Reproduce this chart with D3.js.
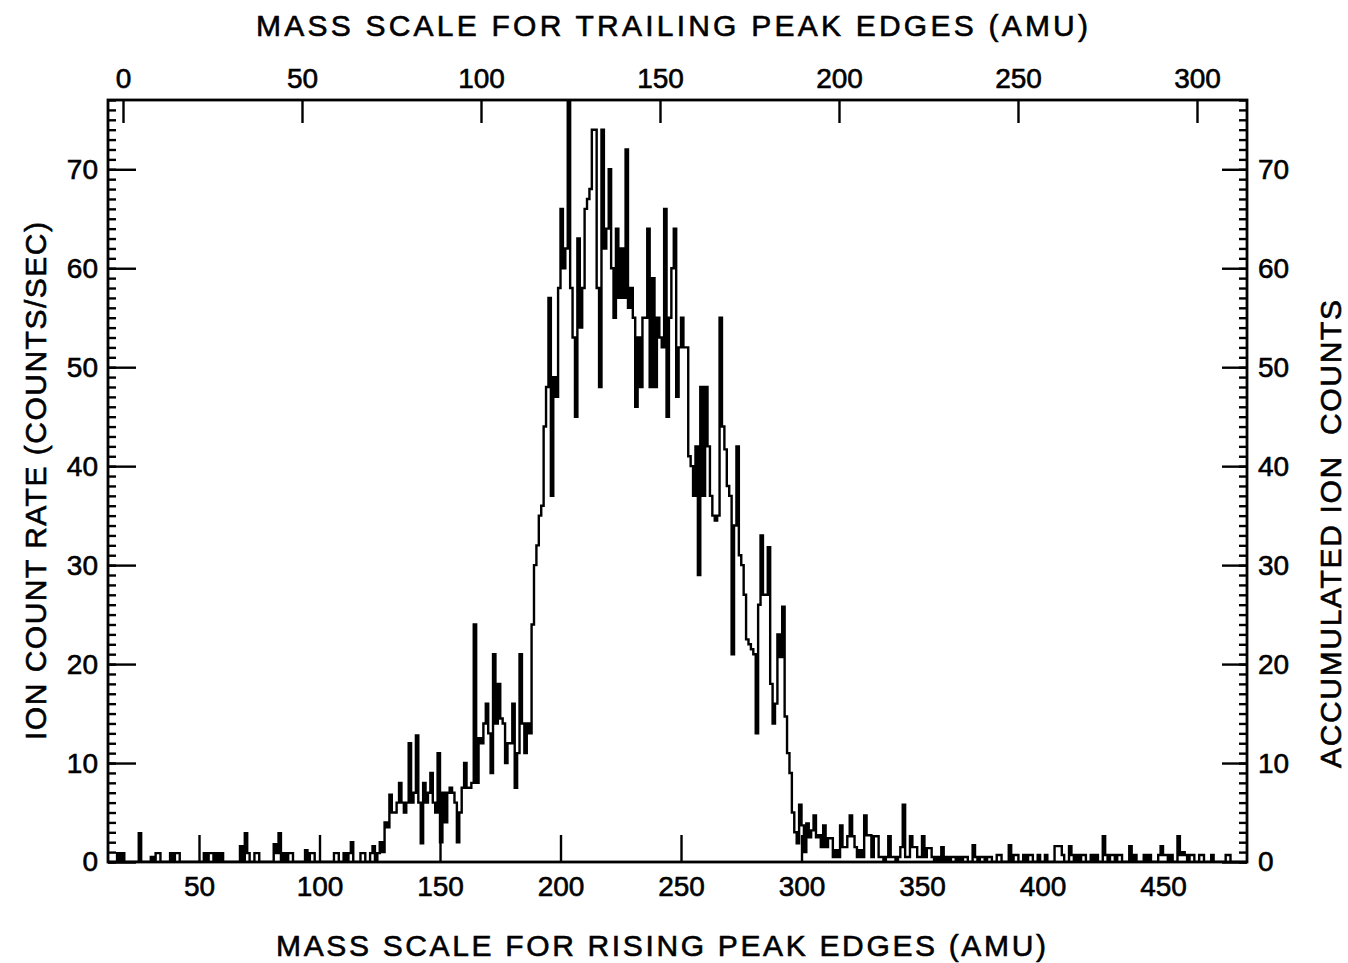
<!DOCTYPE html>
<html><head><meta charset="utf-8">
<script src="https://cdn.jsdelivr.net/npm/d3@7"></script>
<style>
html,body{margin:0;padding:0;background:#fff;}
svg text{font-family:"Liberation Sans", Arial, sans-serif; fill:#000;}
</style></head><body>
<svg id="chart" width="1348" height="963"></svg>
<script>
// ---- DATA (1-AMU bins on the rising-edge mass scale) ----
const binStart = 10; // rising-edge mass of the first bin (AMU)
// m = 10 .. 119
const lowMassCounts = [
  0,0,0,0,0,0,0.9,0,0.9,0,
  0,0,0,0,0,2.9,0,0,0,0,
  0.5,0,0.9,0.9,0,0,0,0,0.9,0,
  0.9,0.9,0,0,0,0,0,0,0,0,
  0,0,0.9,0,0.9,0.9,0,0.9,0,0.9,
  0,0,0,0,0,0,0,1.6,0,2.9,
  0.9,0,0,0.9,0.9,0,0,0,0,0,
  0,1.8,0.9,2.9,0,0.9,0,0.9,0.9,0,
  0,0,0,0,1.2,0,0.9,0.9,0,0,
  0,0,0,0,0,0,0.9,0.9,0,0,
  0.9,0,0.9,2,0,0,0,0.9,0.9,0
];
// m = 120 .. 299
const peakCounts = [
  0,0.9,1.6,0,0.9,2,1,4,3.5,6.8,
  5,5,6,8,6,5,6,12,6,7,
  12.8,6,1.9,8,6,7,9,6,5,11,
  2,7,4,7,7.5,7,6,2,5,7.5,
  10,7.5,7.5,8,24,8,12.5,12,14,16,
  13,9,21,14,18,14.5,14,10,12,12,
  16,7.5,11,21,14,11,14,13,24,30,
  32,35,36,44,48,57,37,49,47,58,
  66,60,62,80,58,53,45,63,54,58,
  66,67,68,74,74,58,48,74,62,64,
  70,60,55,64,57,62,57,72,56,58,
  55,46,53,48,55,55,64,48,59,48,
  55,53,52,66,45,55,60,64,47,52,
  55,52,52,41,40,37,42,29,48,37,
  48,42,37,35,34.5,35,55,44,41.7,38,
  37,21,34,42,31,30,27,22.5,22,21.5,
  21,13,26,33,27,27,31.8,18,14,16,
  23,20.7,25.8,14.7,11,9,5,3,1.9,5.8
];
// m = 300 .. 489
const tailCounts = [
  3.7,1,3.9,2.5,3.2,4.7,2.5,2.7,1.5,3.7,
  1.5,2.4,2.4,0.5,1.2,0.5,3.7,1.5,1.5,2.6,
  4.7,2.6,1.5,0.5,1.2,0.5,4.7,2.7,2.7,0.5,
  2.6,2.6,0.5,0.5,0,0.5,2.6,0.5,0.5,0,
  0.5,1.5,5.8,0.5,0.5,2.6,1.5,1.5,0.5,0.5,
  2.6,0.5,1.4,1.4,0.5,0,0.5,0,1.5,0,
  0.5,0,0.5,0.5,0,0.5,0,0.5,0.5,0,
  0,1.7,0.5,0,0.5,0.5,0,0.5,0.5,0,
  0,0.7,0.7,0,0,0,1.7,0,0.7,0.7,
  0,0,0.7,0,0.7,0.7,0,0,0.7,0,
  0,0.7,0,0,0,1.6,1.6,1.6,0.7,0,
  0,1.6,0.7,0,0.7,0,0.7,0.7,0,0,
  0.7,0,0.7,0,0,2.6,0.7,0,0.7,0.7,
  0,0.7,0.7,0,0,0,1.6,0,0.7,0,
  0,0,0.7,0,0.7,0,0,0,0.7,1.6,
  0.7,0.7,0,0.7,0,0,2.6,0.7,1,0.7,
  0,0.7,0.7,0,0,0.7,0.7,0,0,0,
  0.7,0,0,0,0,0,0.7,0.7,0,0,
  0,0,0,0,0,0,0,0,0,0
];
const risingTickLabels = [50,100,150,200,250,300,350,400,450];
const risingTickMarks = [50,100,150,200,250,300];
const trailingTicks = [0,50,100,150,200,250,300];
const rateTicks = [0,10,20,30,40,50,60,70];
const minorRateTicks = d3.range(0,78);

const topTitle = "MASS SCALE FOR TRAILING PEAK EDGES (AMU)";
const bottomTitle = "MASS SCALE FOR RISING PEAK EDGES (AMU)";
const leftTitle = "ION COUNT RATE (COUNTS/SEC)";
const rightTitle = "ACCUMULATED ION  COUNTS";

// ---- LAYOUT ----
const L = 108, R = 1247, T = 100, B = 862;
const svg = d3.select("#chart");
const xRise = d3.scaleLinear().domain([12.24, 484.85]).range([L, R]);
const xTrail = d3.scaleLinear().domain([-4.19, 313.97]).range([L, R]);
const y = d3.scaleLinear().domain([0, 77]).range([B, T]);

svg.append("rect").attr("width",1348).attr("height",963).attr("fill","#fff");

svg.append("clipPath").attr("id","plotclip")
  .append("rect").attr("x",L).attr("y",T).attr("width",R-L).attr("height",B-T);

// ---- histogram ----
const counts = lowMassCounts.concat(peakCounts, tailCounts);
const pts = counts.map((v,i)=>[binStart+i, v]);
pts.push([binStart+counts.length, counts[counts.length-1]]);
const line = d3.line().x(d=>xRise(d[0])).y(d=>y(d[1])).curve(d3.curveStepAfter);
svg.append("path").attr("d", line(pts))
  .attr("clip-path","url(#plotclip)")
  .attr("fill","none").attr("stroke","#000").attr("stroke-width",2.4)
  .attr("stroke-linejoin","miter");

// ---- axes ----
const FS = 28;
function styleAxis(g){
  g.select(".domain").remove();
  g.selectAll(".tick line").attr("stroke","#000").attr("stroke-width",2.4);
  g.selectAll(".tick text").attr("font-size",FS).attr("fill","#000")
    .attr("stroke","#000").attr("stroke-width",0.6)
    .style("font-family",'"Liberation Sans", Arial, sans-serif');
}
// left minor
svg.append("g").attr("transform",`translate(${L},0)`)
  .call(d3.axisLeft(y).tickValues(minorRateTicks).tickSizeInner(-8).tickSizeOuter(0).tickFormat(""))
  .call(styleAxis);
// left major
svg.append("g").attr("transform",`translate(${L},0)`)
  .call(d3.axisLeft(y).tickValues(rateTicks).tickSizeInner(-28).tickSizeOuter(0).tickPadding(10).tickFormat(d3.format("d")))
  .call(styleAxis);
// right minor
svg.append("g").attr("transform",`translate(${R},0)`)
  .call(d3.axisRight(y).tickValues(minorRateTicks).tickSizeInner(-8).tickSizeOuter(0).tickFormat(""))
  .call(styleAxis);
// right major
svg.append("g").attr("transform",`translate(${R},0)`)
  .call(d3.axisRight(y).tickValues(rateTicks).tickSizeInner(-25).tickSizeOuter(0).tickPadding(11).tickFormat(d3.format("d")))
  .call(styleAxis);
// top (trailing edges)
svg.append("g").attr("transform",`translate(0,${T})`)
  .call(d3.axisTop(xTrail).tickValues(trailingTicks).tickSizeInner(-23).tickSizeOuter(0).tickPadding(12).tickFormat(d3.format("d")))
  .call(styleAxis);
// bottom tick marks
svg.append("g").attr("transform",`translate(0,${B})`)
  .call(d3.axisBottom(xRise).tickValues(risingTickMarks).tickSizeInner(-27).tickSizeOuter(0).tickFormat(""))
  .call(styleAxis);
// bottom labels
svg.append("g").attr("transform",`translate(0,${B})`)
  .call(d3.axisBottom(xRise).tickValues(risingTickLabels).tickSizeInner(0).tickSizeOuter(0).tickPadding(14).tickFormat(d3.format("d")))
  .call(styleAxis);

// frame
svg.append("rect").attr("x",L).attr("y",T).attr("width",R-L).attr("height",B-T)
  .attr("fill","none").attr("stroke","#000").attr("stroke-width",2.8);

// ---- titles ----
const TF = 30;
function styleTitle(t){
  t.attr("text-anchor","middle").attr("font-size",TF)
   .attr("stroke","#000").attr("stroke-width",0.6)
   .attr("lengthAdjust","spacing");
}
svg.append("text").text(topTitle).attr("x",672).attr("y",36)
  .call(styleTitle).attr("textLength",832);
svg.append("text").text(bottomTitle).attr("x",661).attr("y",956)
  .call(styleTitle).attr("textLength",770);
svg.append("text").text(leftTitle)
  .attr("transform","translate(46,481) rotate(-90)")
  .call(styleTitle).attr("textLength",518);
svg.append("text").text(rightTitle).style("white-space","pre")
  .attr("transform","translate(1341,534) rotate(-90)")
  .call(styleTitle).attr("textLength",468);
</script>
</body></html>
